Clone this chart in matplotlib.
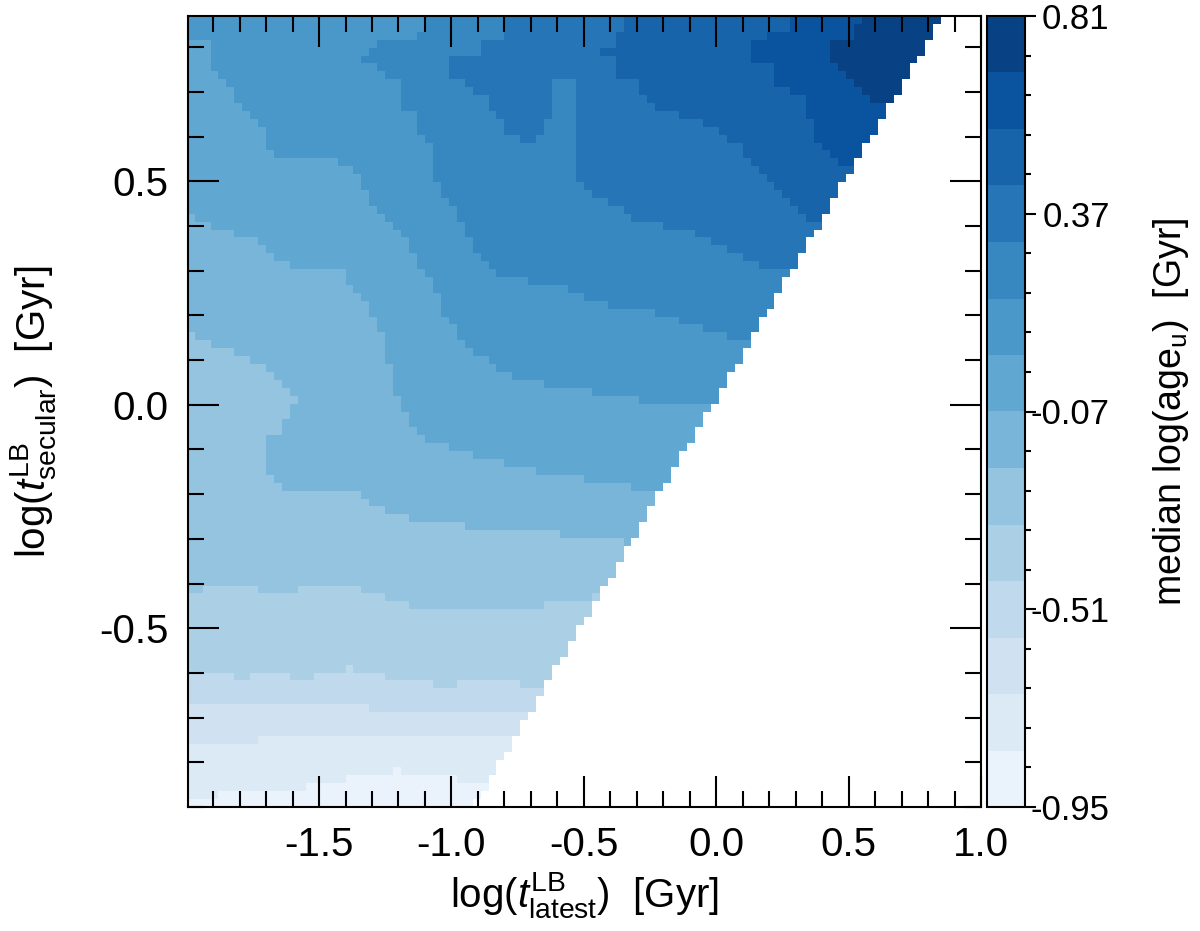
import numpy as np
import matplotlib
matplotlib.use('Agg')
import matplotlib.pyplot as plt
from matplotlib.colors import ListedColormap, BoundaryNorm
from matplotlib.path import Path
from matplotlib.ticker import FixedLocator, MultipleLocator

plt.rcParams['font.family'] = ['Liberation Sans', 'DejaVu Sans']
plt.rcParams['mathtext.fontset'] = 'custom'
plt.rcParams['mathtext.rm'] = 'Liberation Sans'
plt.rcParams['mathtext.it'] = 'Liberation Sans:italic'
plt.rcParams['axes.unicode_minus'] = False

# binning of the map (log t_latest on x, log t_secular on y)
x_edges = np.linspace(-2.0, 1.0, 101)
y_edges = np.linspace(-0.9, 0.87, 101)

# colour bands of median log(age_u)
cbar_ticks = [-0.95, -0.51, -0.07, 0.37, 0.81]
n_bands = 14

# band boundaries, (log t_latest, log t_secular)
# each line separates band k-1 (below/left) from band k (above/right)
bound_0_1 = [(-2.01, -0.883), (-1.879, -0.883), (-1.879, -0.866), (-1.545, -0.866),
             (-1.545, -0.849), (-1.399, -0.849), (-1.399, -0.831), (-1.216, -0.831),
             (-1.216, -0.814), (-1.184, -0.814), (-1.184, -0.831), (-0.976, -0.831),
             (-0.976, -0.849), (-0.5, -0.849)]
bound_1_2 = [(-2.01, -0.759), (-1.727, -0.759), (-1.727, -0.741), (-0.6, -0.741)]
bound_2_3 = [(-2.01, -0.670), (-1.304, -0.670), (-1.304, -0.688), (-0.5, -0.688)]
bound_3_4 = [(-2.01, -0.599), (-1.826, -0.599), (-1.826, -0.617), (-1.763, -0.617),
             (-1.763, -0.599), (-1.618, -0.599), (-1.618, -0.617), (-1.523, -0.617),
             (-1.523, -0.599), (-1.404, -0.599), (-1.404, -0.584), (-1.38, -0.584),
             (-1.38, -0.599), (-1.26, -0.599), (-1.26, -0.617), (-1.077, -0.617),
             (-1.077, -0.635), (-0.982, -0.635), (-0.982, -0.617), (-0.749, -0.617),
             (-0.749, -0.635), (-0.4, -0.635)]
bound_4_5 = [(-2.01, -0.424), (-1.942, -0.424), (-1.942, -0.405), (-1.727, -0.405),
             (-1.727, -0.424), (-1.576, -0.424), (-1.576, -0.405), (-1.336, -0.405),
             (-1.336, -0.424), (-1.247, -0.424), (-1.247, -0.441), (-1.159, -0.441),
             (-1.159, -0.459), (-0.641, -0.459), (-0.641, -0.441), (-0.464, -0.441),
             (-0.464, -0.424), (0.0, -0.424)]
bound_5_6 = [(-2.01, 0.161), (-1.968, 0.161), (-1.968, 0.143), (-1.848, 0.124),
             (-1.784, 0.109), (-1.727, 0.091), (-1.664, 0.072), (-1.633, 0.039),
             (-1.58, 0.012), (-1.58, 0.0), (-1.607, -0.01), (-1.607, -0.032),
             (-1.633, -0.032), (-1.633, -0.07), (-1.696, -0.07), (-1.696, -0.159),
             (-1.664, -0.174), (-1.633, -0.193), (-1.367, -0.193), (-1.336, -0.211),
             (-1.273, -0.228), (-1.216, -0.245), (-1.096, -0.263), (-0.768, -0.282),
             (-0.376, -0.299), (-0.344, -0.316), (0.0, -0.32)]
bound_6_7 = [(-2.01, 0.426), (-1.966, 0.426), (-1.966, 0.408), (-1.878, 0.393),
             (-1.784, 0.374), (-1.695, 0.356), (-1.664, 0.322), (-1.576, 0.303),
             (-1.399, 0.303), (-1.399, 0.284), (-1.367, 0.251), (-1.336, 0.232),
             (-1.304, 0.213), (-1.273, 0.180), (-1.247, 0.128), (-1.216, 0.040),
             (-1.184, 0.001), (-1.159, -0.051), (-1.127, -0.068), (-1.064, -0.085),
             (-0.976, -0.103), (-0.856, -0.122), (-0.736, -0.141), (-0.584, -0.158),
             (-0.401, -0.174), (-0.25, -0.193), (0.0, -0.2)]
bound_7_8 = [(-2.01, 0.818), (-1.904, 0.818), (-1.904, 0.747), (-1.847, 0.728),
             (-1.816, 0.695), (-1.784, 0.657), (-1.753, 0.639), (-1.695, 0.603),
             (-1.695, 0.572), (-1.635, 0.553), (-1.456, 0.553), (-1.424, 0.535),
             (-1.367, 0.535), (-1.336, 0.501), (-1.304, 0.445), (-1.241, 0.408),
             (-1.184, 0.393), (-1.159, 0.355), (-1.127, 0.318), (-1.095, 0.284),
             (-1.064, 0.266), (-1.032, 0.213), (-1.007, 0.180), (-0.976, 0.162),
             (-0.944, 0.128), (-0.887, 0.110), (-0.824, 0.076), (-0.736, 0.057),
             (-0.553, 0.038), (-0.376, 0.020), (-0.161, 0.001), (0.1, 0.0)]
bound_8_9 = [(-1.1, 0.95), (-1.1, 0.836), (-1.127, 0.818), (-1.273, 0.818),
             (-1.273, 0.799), (-1.336, 0.780), (-1.336, 0.761), (-1.273, 0.761),
             (-1.241, 0.736), (-1.184, 0.710), (-1.184, 0.657), (-1.128, 0.657),
             (-1.128, 0.601), (-1.064, 0.586), (-1.064, 0.516), (-1.033, 0.463),
             (-1.001, 0.445), (-0.976, 0.411), (-0.944, 0.393), (-0.887, 0.326),
             (-0.856, 0.303), (-0.768, 0.284), (-0.584, 0.266), (-0.528, 0.247),
             (-0.408, 0.225), (-0.225, 0.206), (-0.105, 0.180), (0.015, 0.162),
             (0.078, 0.147), (0.3, 0.147)]
bound_9_10 = [(-0.793, 0.95), (-0.793, 0.818), (-0.888, 0.818), (-0.888, 0.78),
              (-1.0, 0.78), (-1.0, 0.728), (-0.976, 0.728), (-0.944, 0.71),
              (-0.888, 0.695), (-0.856, 0.676), (-0.824, 0.643), (-0.793, 0.605),
              (-0.698, 0.587), (-0.648, 0.605), (-0.648, 0.639), (-0.616, 0.657),
              (-0.616, 0.728), (-0.528, 0.728), (-0.528, 0.501), (-0.464, 0.475),
              (-0.433, 0.46), (-0.376, 0.445), (-0.344, 0.426), (-0.288, 0.411),
              (-0.136, 0.393), (-0.045, 0.374), (0.015, 0.355), (0.078, 0.34),
              (0.135, 0.322), (0.198, 0.303), (0.5, 0.303)]
bound_10_11 = [(-0.33, 0.95), (-0.345, 0.855), (-0.376, 0.836), (-0.376, 0.799),
               (-0.433, 0.799), (-0.433, 0.780), (-0.376, 0.780), (-0.376, 0.728),
               (-0.282, 0.728), (-0.282, 0.695), (-0.25, 0.676), (-0.193, 0.657),
               (-0.073, 0.639), (-0.016, 0.624), (0.015, 0.605), (0.075, 0.586),
               (0.105, 0.568), (0.135, 0.535), (0.198, 0.497), (0.23, 0.479),
               (0.255, 0.46), (0.287, 0.445), (0.318, 0.426), (0.343, 0.411),
               (0.6, 0.411)]
bound_11_12 = [(0.28, 0.95), (0.28, 0.836), (0.23, 0.836), (0.141, 0.818),
               (0.141, 0.766), (0.173, 0.766), (0.23, 0.747), (0.23, 0.713),
               (0.318, 0.695), (0.343, 0.661), (0.375, 0.605), (0.406, 0.571),
               (0.438, 0.553), (0.464, 0.535), (0.7, 0.535)]
bound_12_13 = [(0.56, 0.95), (0.558, 0.87), (0.526, 0.851), (0.507, 0.818),
               (0.438, 0.818), (0.438, 0.766), (0.469, 0.747), (0.495, 0.728),
               (0.526, 0.71), (0.558, 0.695), (0.614, 0.676), (0.9, 0.676)]

boundaries = [bound_0_1, bound_1_2, bound_2_3, bound_3_4, bound_4_5, bound_5_6,
              bound_6_7, bound_7_8, bound_8_9, bound_9_10, bound_10_11,
              bound_11_12, bound_12_13]

# only bins with t_latest <= t_secular are populated
diag_shift = -0.015

levels = np.linspace(cbar_ticks[0], cbar_ticks[-1], n_bands + 1)
colours = plt.cm.Blues(np.arange(1, n_bands + 1) / (n_bands + 1))
cmap = ListedColormap(colours)
norm = BoundaryNorm(levels, n_bands)

xc = 0.5 * (x_edges[1:] + x_edges[:-1])
yc = 0.5 * (y_edges[1:] + y_edges[:-1])
X, Y = np.meshgrid(xc, yc)
pts = np.column_stack([X.ravel(), Y.ravel()])

band = np.zeros(X.size, dtype=int)
for line in boundaries:
    poly = list(line) + [(3, line[-1][1]), (3, 3), (-3, 3), (-3, line[0][1])]
    band += Path(poly).contains_points(pts)
band = band.reshape(X.shape)

half = 0.5 * (levels[1] - levels[0])
Z = levels[band] + half
Z = np.ma.masked_where(X > Y + diag_shift, Z)

fig = plt.figure(figsize=(12, 9.31), dpi=100)
ax = fig.add_axes([188 / 1200, 1 - 807 / 931, 793 / 1200, 791 / 931])
cax = fig.add_axes([987 / 1200, 1 - 807 / 931, 38 / 1200, 791 / 931])

mesh = ax.pcolormesh(x_edges, y_edges, Z, cmap=cmap, norm=norm, linewidth=0)

ax.set_xlim(-1.995, 1.0)
ax.set_ylim(-0.9, 0.87)
ax.xaxis.set_major_locator(FixedLocator([-1.5, -1.0, -0.5, 0.0, 0.5, 1.0]))
ax.xaxis.set_minor_locator(MultipleLocator(0.1))
ax.yaxis.set_major_locator(FixedLocator([-0.5, 0.0, 0.5]))
ax.yaxis.set_minor_locator(MultipleLocator(0.1))
ax.xaxis.set_major_formatter(plt.FormatStrFormatter('%.1f'))
ax.yaxis.set_major_formatter(plt.FormatStrFormatter('%.1f'))
ax.tick_params(which='both', direction='in', top=True, right=True, width=1.5,
               labelsize=29, color='black')
ax.tick_params(which='major', length=22.5)
ax.tick_params(which='minor', length=11.5)
ax.tick_params(axis='x', pad=14)
ax.tick_params(axis='y', pad=14)
for s in ax.spines.values():
    s.set_linewidth(1.5)

ax.set_xlabel(r'log($t^{\mathrm{LB}}_{\mathrm{latest}}$)  [Gyr]', fontsize=29, labelpad=4)
ax.set_ylabel(r'log($t^{\mathrm{LB}}_{\mathrm{secular}}$)  [Gyr]', fontsize=29, labelpad=30)

cbar = fig.colorbar(mesh, cax=cax, spacing='proportional', ticks=cbar_ticks)
cbar.ax.yaxis.set_major_formatter(plt.FormatStrFormatter('%.2f'))
cbar.ax.yaxis.set_minor_locator(FixedLocator(np.linspace(levels[0], levels[-1], 21)))
cbar.outline.set_linewidth(1.5)
cax.tick_params(which='both', direction='out', right=True, width=1.5, labelsize=25)
cax.tick_params(which='major', length=8, pad=53)
cax.tick_params(which='minor', length=4.5)
for lab in cax.get_yticklabels():
    lab.set_horizontalalignment('right')
cax.set_ylabel(r'median log(age$_{\mathrm{u}}$)  [Gyr]', fontsize=27, labelpad=30)

fig.savefig('out.png', dpi=100)
